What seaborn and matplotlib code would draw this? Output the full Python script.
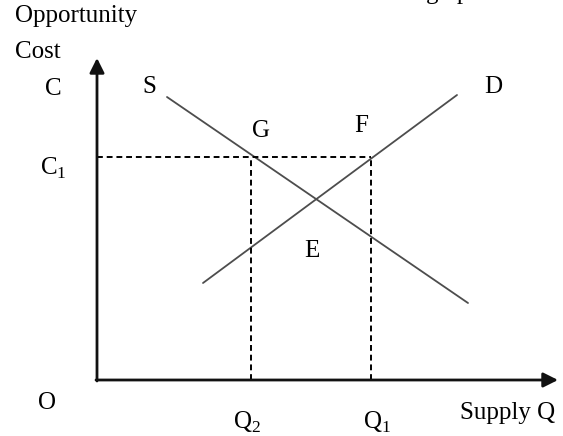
import pandas as pd
import matplotlib
matplotlib.use("Agg")
import matplotlib.pyplot as plt
import seaborn as sns

# Dados do diagrama (unidades arbitrarias)
supply_q = [7.0, 37.1]
supply_cost = [28.3, 7.7]
demand_q = [10.6, 36.0]
demand_cost = [9.7, 28.5]
q1, q2 = 27.4, 15.4
c1 = 22.3

sns.set_theme(style="white")
plt.rcParams["font.family"] = ["Liberation Serif", "DejaVu Serif"]
plt.rcParams["mathtext.fontset"] = "custom"
plt.rcParams["mathtext.rm"] = "Liberation Serif"

df_s = pd.DataFrame({"q": supply_q, "c": supply_cost})
df_d = pd.DataFrame({"q": demand_q, "c": demand_cost})

fig = plt.figure(figsize=(5.63, 4.36), dpi=100)
ax = fig.add_axes([0, 0, 1, 1])
ax.set_xlim(-9.7, 46.6)
ax.set_ylim(-5.6, 38.0)
ax.axis("off")

sns.lineplot(data=df_s, x="q", y="c", ax=ax, color="#4d4d4d", lw=1.3)
sns.lineplot(data=df_d, x="q", y="c", ax=ax, color="#4d4d4d", lw=1.3)

# linhas tracejadas
dash = dict(color="black", lw=1.4, dashes=(3.0, 2.0))
ax.plot([0, q1], [c1, c1], **dash)
ax.plot([q2, q2], [0, c1], **dash)
ax.plot([q1, q1], [0, c1], **dash)

# eixos com setas
seta = dict(arrowstyle="-|>,head_length=0.4,head_width=0.2", lw=2.0,
            color="#111111", mutation_scale=22, shrinkA=0, shrinkB=0)
ax.annotate("", xy=(0, 32.2), xytext=(0, -0.1), arrowprops=seta)
ax.annotate("", xy=(46.1, 0), xytext=(-0.1, 0), arrowprops=seta)

fs = 18
txt = dict(fontsize=fs, color="black", va="baseline")
ax.text(-8.2, 35.8, "Opportunity", ha="left", **txt)
ax.text(-8.2, 32.2, "Cost", ha="left", **txt)
ax.text(-4.4, 28.5, "C", ha="center", **txt)
ax.text(-5.7, 20.5, r"C$_\mathrm{1}$", ha="left", **txt)
ax.text(5.2, 28.7, "S", ha="center", **txt)
ax.text(16.4, 24.3, "G", ha="center", **txt)
ax.text(26.4, 24.8, "F", ha="center", **txt)
ax.text(39.6, 28.7, "D", ha="center", **txt)
ax.text(21.5, 12.3, "E", ha="center", **txt)
ax.text(-5.0, -2.9, "O", ha="center", **txt)
ax.text(13.6, -4.9, r"Q$_\mathrm{2}$", ha="left", **txt)
ax.text(26.6, -4.9, r"Q$_\mathrm{1}$", ha="left", **txt)
ax.text(36.3, -3.9, "Supply Q", ha="left", **txt)
# resto de texto cortado no topo
ax.text(32.9, 38.1, "graph", ha="left", **txt)

fig.savefig("out.png", dpi=100)
